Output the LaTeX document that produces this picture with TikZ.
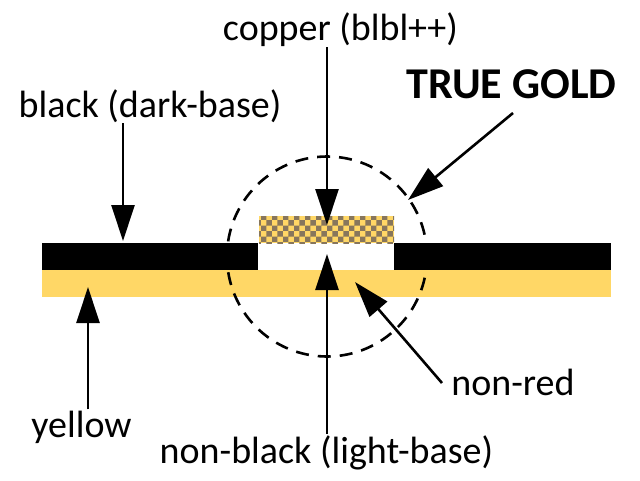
\documentclass[tikz,border=0pt]{standalone}
\usepackage{fontspec}
\setmainfont{Carlito}
\usepackage{tikz}
\usetikzlibrary{arrows.meta,patterns}
\definecolor{tgyellow}{RGB}{255,215,102}
\definecolor{tgcopper}{RGB}{135,118,92}

\begin{document}
\begin{tikzpicture}[
  x=1pt, y=-1pt,
  every node/.style={font=\fontsize{38}{41}\selectfont, inner sep=1pt},
  bar/.style={draw=none, inner sep=0pt, minimum height=27pt},
  darkbar/.style={bar, fill=black},
  goldbar/.style={bar, fill=tgyellow},
  copperbar/.style={bar, preaction={fill=tgyellow}, pattern=checkerboard,
    pattern color=tgcopper},
  arr/.style={-{Triangle[length=36pt, width=23pt]}, line width=2.6pt},
  zone/.style={dash pattern=on 13pt off 9pt, line width=2.6pt},
  lab/.style={anchor=base},
  title/.style={lab, font=\fontsize{44}{47}\selectfont\bfseries}
]
  \useasboundingbox (0,0) rectangle (640,480);

  % layers
  \node[goldbar, minimum width=569pt] (base) at (326.5,283.5) {};
  \node[darkbar, minimum width=216pt] (darkL) at (150,256.5) {};
  \node[darkbar, minimum width=217pt] (darkR) at (502.5,256.5) {};
  \node[copperbar, minimum width=135pt] (copper) at (326.5,229.5) {};

  % dashed zone
  \node[zone, draw, circle, minimum size=200pt] (zone) at (327,256.5) {};

  % labels
  \node[lab] (lcopper) at (340.5,40) {copper (blbl++)};
  \node[title] (lgold) at (511.5,98) {TRUE GOLD};
  \node[lab] (ldark) at (150,117) {black (dark-base)};
  \node[lab] (lyellow) at (81.5,437) {yellow};
  \node[lab] (llight) at (326.5,463) {non-black (light-base)};
  \node[lab] (lred) at (513,395) {non-red};

  % arrow ends
  \coordinate (tcopper) at (327,225);
  \coordinate (tdark) at (123,241);
  \coordinate (tyellow) at (88,287);
  \coordinate (tlight) at (327,254);
  \coordinate (tgold) at (408,200);
  \coordinate (tred) at (355,282);
  \coordinate (sgold) at (513,113);
  \coordinate (sred) at (442,383);

  \draw[arr] (lcopper.south -| tcopper) -- (tcopper);
  \draw[arr] (ldark.south -| tdark) -- (tdark);
  \draw[arr] (lyellow.north -| tyellow) -- (tyellow);
  \draw[arr] (llight.north -| tlight) -- (tlight);
  \draw[arr] (sgold) -- (tgold);
  \draw[arr] (sred) -- (tred);
\end{tikzpicture}
\end{document}
